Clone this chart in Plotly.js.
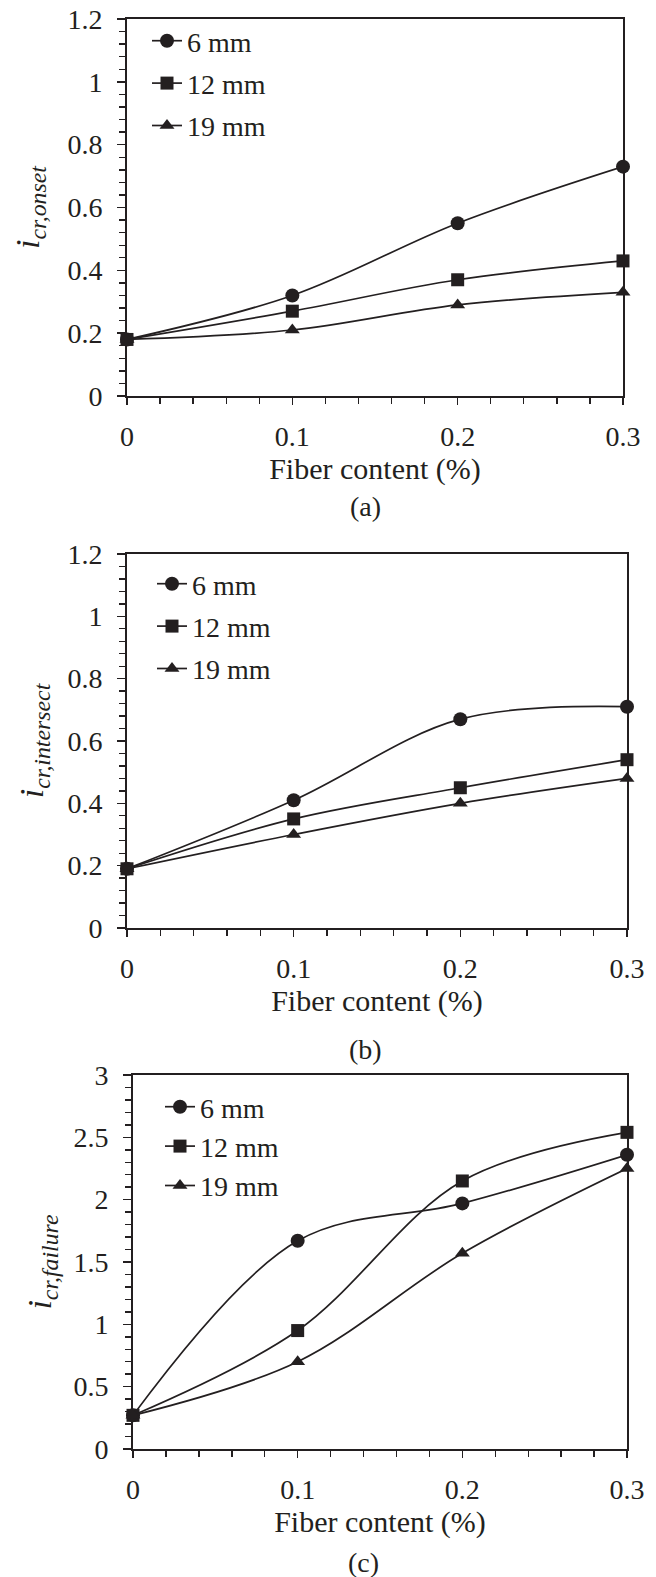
<!DOCTYPE html>
<html><head><meta charset="utf-8">
<script src="https://cdn.plot.ly/plotly-3.0.1.min.js"></script>
<style>html,body{margin:0;padding:0;background:#fff;}#chart{width:656px;height:1577px;}</style>
</head><body><div id="chart"></div>
<script>
// ---- data ----
const fiberContent = [0, 0.1, 0.2, 0.3];
const seriesNames = ['6 mm', '12 mm', '19 mm'];
const onset6 = [0.18, 0.32, 0.55, 0.73];
const onset12 = [0.18, 0.27, 0.37, 0.43];
const onset19 = [0.18, 0.21, 0.29, 0.33];
const intersect6 = [0.19, 0.41, 0.67, 0.71];
const intersect12 = [0.19, 0.35, 0.45, 0.54];
const intersect19 = [0.19, 0.30, 0.40, 0.48];
const failure6 = [0.27, 1.67, 1.97, 2.36];
const failure12 = [0.27, 0.95, 2.15, 2.54];
const failure19 = [0.27, 0.70, 1.57, 2.25];
const xTickVals = [0, 0.1, 0.2, 0.3];
const xTickText = ['0', '0.1', '0.2', '0.3'];
const yTickValsAB = [0, 0.2, 0.4, 0.6, 0.8, 1, 1.2];
const yTickTextAB = ['0', '0.2', '0.4', '0.6', '0.8', '1', '1.2'];
const yTickValsC = [0, 0.5, 1, 1.5, 2, 2.5, 3];
const yTickTextC = ['0', '0.5', '1', '1.5', '2', '2.5', '3'];
const xTitle = 'Fiber content (%)';
const yTitles = ['<i>i</i><sub><i>cr,onset</i></sub>', '<i>i</i><sub><i>cr,intersect</i></sub>', '<i>i</i><sub><i>cr,failure</i></sub>'];
const panelLabels = ['(a)', '(b)', '(c)'];

// ---- styling / layout ----
const W = 656, H = 1577;
const INK = '#231f20';
const FONT = "'Liberation Serif', 'Times New Roman', serif";
const symbols = ['circle', 'square', 'triangle-up'];
const sizes = [14, 13, 13];
const panelData = [[onset6, onset12, onset19], [intersect6, intersect12, intersect19], [failure6, failure12, failure19]];
// pixel boxes: [left, right, top, bottom]
const boxes = [[127, 623, 19, 396], [127, 627, 554, 928], [133, 627, 1075, 1449]];
const yRanges = [[0, 1.2], [0, 1.2], [0, 3]];
const yMinor = [0.04, 0.04, 0.1];
const yTicks = [[yTickValsAB, yTickTextAB], [yTickValsAB, yTickTextAB], [yTickValsC, yTickTextC]];
const yTitleStandoff = [18, 14, 12];
const legendPos = [[147, 16], [152, 559], [160, 1082]];
const legendGap = [3, 3, 0];
const labelPos = [[365, 507], [365, 1049], [363, 1562]];

const traces = [];
const layout = {
  width: W, height: H, margin: {l: 0, r: 0, t: 0, b: 0},
  paper_bgcolor: '#fff', plot_bgcolor: 'rgba(0,0,0,0)',
  font: {family: FONT, color: INK, size: 28},
  showlegend: true, annotations: []
};

panelData.forEach((series, p) => {
  const n = p + 1;
  const xs = n === 1 ? '' : String(n);
  const legendName = n === 1 ? 'legend' : 'legend' + n;
  series.forEach((vals, s) => {
    traces.push({
      x: fiberContent, y: vals, name: seriesNames[s], type: 'scatter', mode: 'lines+markers',
      xaxis: 'x' + xs, yaxis: 'y' + xs, legend: legendName, legendgroup: 'g' + p + s,
      cliponaxis: false,
      line: {color: INK, width: 1.7, shape: 'spline', smoothing: 1},
      marker: {symbol: symbols[s], size: sizes[s], color: INK}
    });
  });
  const [l, r, t, b] = boxes[p];
  const xdom = [l / W, r / W];
  const ydom = [(H - b) / H, (H - t) / H];
  layout['xaxis' + xs] = {
    domain: xdom, anchor: 'y' + xs, range: [0, 0.3], tickvals: xTickVals, ticktext: xTickText,
    ticks: 'outside', ticklen: 7, tickwidth: 1.6, tickcolor: INK,
    minor: {ticks: 'outside', ticklen: 6, tickwidth: 1.4, tickcolor: INK, dtick: 0.02, showgrid: false},
    showline: true, linecolor: INK, linewidth: 2, mirror: true, showgrid: false, zeroline: false,
    ticklabelstandoff: 7, tickfont: {size: 28, family: FONT, color: INK},
    title: {text: xTitle, font: {size: 30, family: FONT, color: INK}, standoff: 5}, fixedrange: true
  };
  layout['yaxis' + xs] = {
    domain: ydom, anchor: 'x' + xs, range: yRanges[p], tickvals: yTicks[p][0], ticktext: yTicks[p][1],
    ticks: 'outside', ticklen: 8, tickwidth: 1.6, tickcolor: INK,
    minor: {ticks: 'outside', ticklen: 6, tickwidth: 1.4, tickcolor: INK, dtick: yMinor[p], showgrid: false},
    showline: true, linecolor: INK, linewidth: 2, mirror: true, showgrid: false, zeroline: false,
    ticklabelstandoff: 9, tickfont: {size: 28, family: FONT, color: INK},
    title: {text: yTitles[p], font: {size: 34, family: FONT, color: INK}, standoff: yTitleStandoff[p]}, fixedrange: true
  };
  // overlay axes giving the inward half of the crossing major ticks
  const ox = String(n + 3);
  layout['xaxis' + ox] = {
    overlaying: 'x' + xs, anchor: 'y' + xs, side: 'bottom', range: [0, 0.3], tickvals: xTickVals,
    ticks: 'inside', ticklen: 8, tickwidth: 1.6, tickcolor: INK, showticklabels: false,
    showline: false, showgrid: false, zeroline: false, fixedrange: true
  };
  layout['yaxis' + ox] = {
    overlaying: 'y' + xs, anchor: 'x' + xs, side: 'left', range: yRanges[p], tickvals: yTicks[p][0],
    ticks: 'inside', ticklen: 9, tickwidth: 1.6, tickcolor: INK, showticklabels: false,
    showline: false, showgrid: false, zeroline: false, fixedrange: true
  };
  layout[legendName] = {
    x: legendPos[p][0] / W, y: (H - legendPos[p][1]) / H, xanchor: 'left', yanchor: 'top',
    bgcolor: 'rgba(0,0,0,0)', borderwidth: 0, traceorder: 'grouped', tracegroupgap: legendGap[p],
    font: {size: 28, family: FONT, color: INK}, itemclick: false, itemdoubleclick: false
  };
  layout.annotations.push({
    text: panelLabels[p], xref: 'paper', yref: 'paper', x: labelPos[p][0] / W, y: (H - labelPos[p][1]) / H,
    xanchor: 'center', yanchor: 'middle', showarrow: false, font: {size: 28, family: FONT, color: INK}
  });
});

Plotly.newPlot('chart', traces, layout, {staticPlot: true, displayModeBar: false});
</script>
</body></html>
